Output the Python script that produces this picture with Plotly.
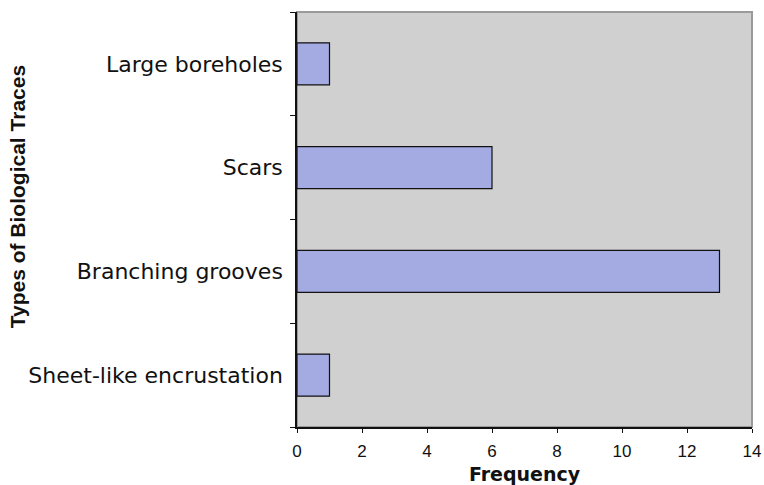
import plotly.graph_objects as go

categories = ["Sheet-like encrustation", "Branching grooves", "Scars", "Large boreholes"]
frequency = [1, 13, 6, 1]
x_ticks = [0, 2, 4, 6, 8, 10, 12, 14]

fig = go.Figure()
fig.add_trace(go.Bar(
    y=categories, x=frequency, orientation="h",
    marker=dict(color="#a4aae2", line=dict(color="#111111", width=1.2)),
))

fig.add_shape(type="rect", xref="paper", yref="paper", x0=0, x1=1, y0=0, y1=1,
              line=dict(color="#9a9a9a", width=2), layer="below")

fig.update_layout(
    width=764, height=485,
    margin=dict(l=297, r=12, t=12, b=58, autoexpand=False),
    paper_bgcolor="white", plot_bgcolor="#d0d0d0",
    bargap=0.595, showlegend=False,
    font=dict(family="Liberation Sans, Arial, sans-serif", color="#111111"),
)
fig.update_xaxes(
    range=[0, 14], tickvals=x_ticks, showgrid=False, zeroline=False, automargin=False,
    showline=True, linecolor="#111111", linewidth=1.5,
    ticks="outside", ticklen=4, tickcolor="#111111",
    ticklabelstandoff=4,
    tickfont=dict(size=17, family="Liberation Sans, Arial, sans-serif"),
    title=dict(text="<b>Frequency</b>", standoff=8,
               font=dict(size=19, family="DejaVu Sans, sans-serif")),
)
fig.update_yaxes(
    type="category", categoryorder="array", categoryarray=categories,
    showgrid=False, zeroline=False, automargin=False,
    showline=True, linecolor="#111111", linewidth=1.5,
    ticks="outside", ticklen=5, tickcolor="#111111", tickson="boundaries",
    ticklabelstandoff=8,
    tickfont=dict(size=22, family="DejaVu Sans, sans-serif"),
)
fig.add_annotation(
    text="<b>Types of Biological Traces</b>", textangle=-90,
    xref="paper", yref="paper", x=-0.615, y=0.554, xanchor="center", yanchor="middle",
    showarrow=False, font=dict(size=21, family="Liberation Sans, Arial, sans-serif", color="#111111"),
)

fig.write_html(
    "out.html",
    config={"displayModeBar": False, "responsive": False},
    post_script="document.body.style.margin='0px';document.body.style.overflow='hidden';",
)
